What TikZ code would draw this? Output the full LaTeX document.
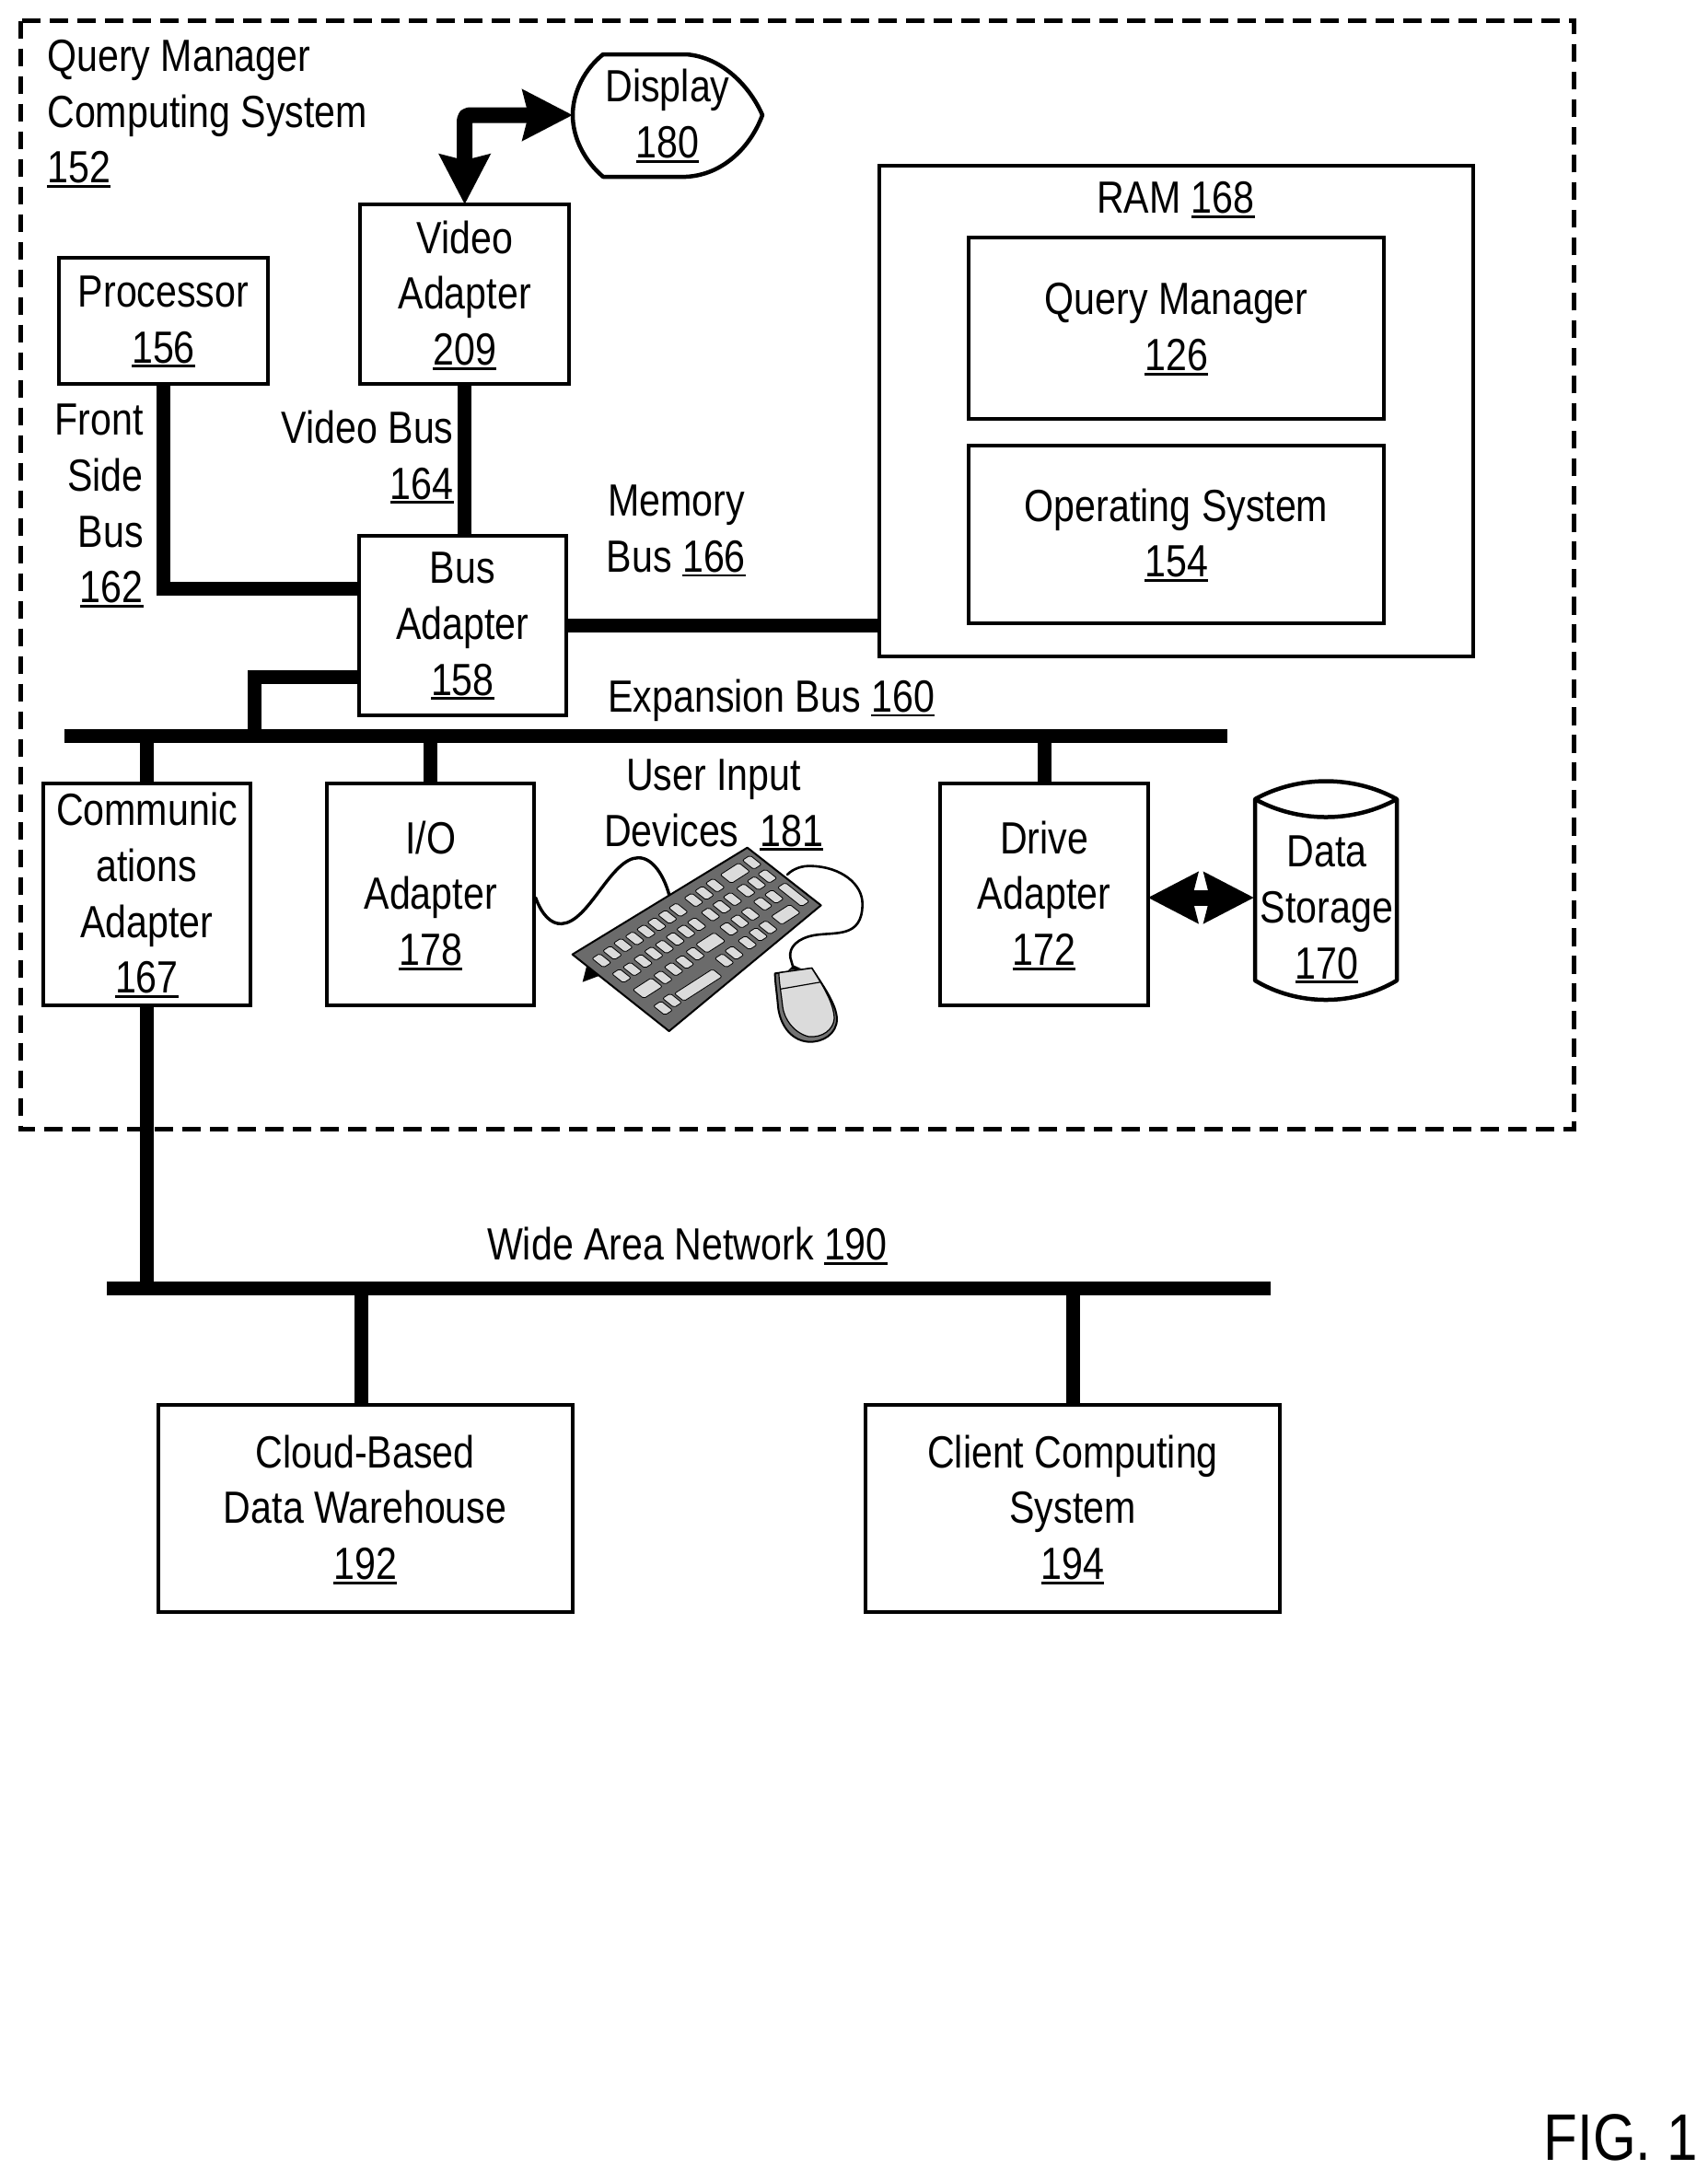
\documentclass[tikz,border=0pt]{standalone}
\usepackage{fontspec}
\setmainfont[FakeStretch=0.84]{Liberation Sans}
\usetikzlibrary{arrows.meta}
\newcommand\un[1]{\setbox0\hbox{#1}\rlap{\smash{\rule[-5pt]{\wd0}{2.8pt}}}\box0\rule[-3pt]{0pt}{3pt}}
\newcommand\kbkey[4]{\fill[keycol,rounded corners=2pt,draw=black,line width=.8pt]
 ({#1-0.84*#3-0.78*#4},{#2+0.54*#3-0.62*#4}) -- ({#1+0.84*#3-0.78*#4},{#2-0.54*#3-0.62*#4}) -- ({#1+0.84*#3+0.78*#4},{#2-0.54*#3+0.62*#4}) -- ({#1-0.84*#3+0.78*#4},{#2+0.54*#3+0.62*#4}) -- cycle;}
\definecolor{keycol}{gray}{0.86}
\definecolor{kbbg}{gray}{0.42}
\tikzset{
 txt/.style={inner sep=0pt,outer sep=0pt,font=\fontsize{49}{60.7}\selectfont,align=center},
 box/.style 2 args={draw=black,line width=4pt,inner sep=0pt,outer sep=0pt,
   minimum width=#1*1.511pt,minimum height=#2*1.511pt,
   font=\fontsize{49}{60.7}\selectfont,align=center},
 busline/.style={draw=black,line width=15pt},
 bigarrow/.style={draw=black,line width=17pt,line join=round,
   {Stealth[length=54pt,width=54pt,inset=6pt]}-{Stealth[length=54pt,width=54pt,inset=6pt]}},
 shapeline/.style={draw=black,line width=4.5pt,line join=round},
 cable/.style={draw=black,line width=2.6pt,line cap=round},
}
\begin{document}
\begin{tikzpicture}[x=1.511pt,y=-1.511pt]
\useasboundingbox (0,0) rectangle (1227,1567.8);
\fill[white] (0,0) rectangle (1227,1567.8);
% outer dashed frame
\draw[black,line width=5pt,dash pattern=on 19.5pt off 10.5pt] (15,15) rectangle (1131,812);
% bars
\coordinate (ebL) at (46,529); \coordinate (ebR) at (882,529);
\coordinate (wanL) at (77,926); \coordinate (wanR) at (913,926);
\coordinate (fsb) at (0,423); \coordinate (xb) at (183,487);
% boxes
\node[box={150}{91}] (proc) at (117.5,230.5) {Processor\\\un{156}};
\node[box={150}{129}] (vid) at (334,211.5) {Video\\Adapter\\\un{209}};
\node[box={149}{129}] (busad) at (332.5,449.5) {Bus\\Adapter\\\un{158}};
\node[box={427}{353}] (ram) at (845.5,295.5) {};
\node[txt] (ramt) at (845,143) {RAM \un{168}};
\node[box={299}{130}] (qm) at (845.5,236) {Query Manager\\\un{126}};
\node[box={299}{128}] (os) at (845.5,384) {Operating System\\\un{154}};
\node[box={149}{160}] (comm) at (105.5,643) {Communic\\ations\\Adapter\\\un{167}};
\node[box={149}{160}] (io) at (309.5,643) {I/O\\Adapter\\\un{178}};
\node[box={149}{160}] (drv) at (750.5,643) {Drive\\Adapter\\\un{172}};
\node[box={298}{149}] (cloud) at (262.5,1084.5) {Cloud-Based\\Data Warehouse\\\un{192}};
\node[box={298}{149}] (client) at (771,1084.5) {Client Computing\\System\\\un{194}};
% free labels
\node[txt,align=left,anchor=west] (qmc) at (34,81) {Query Manager\\Computing System\\\un{152}};
\node[txt,align=right,anchor=east] (fsbt) at (103,363) {Front\\Side\\Bus\\\un{162}};
\node[txt,align=right,anchor=east] (vbt) at (326,328) {Video Bus\\\un{164}};
\node[txt] (mbt) at (486,381) {Memory\\Bus \un{166}};
\node[txt,anchor=west] (ebt) at (437,503.5) {Expansion Bus \un{160}};
\node[txt] (uid) at (513,578) {User Input\\Devices\ \ \un{181}};
\node[txt] (wan) at (494,895) {Wide Area Network \un{190}};
\node[txt,font=\fontsize{71.5}{80}\selectfont,anchor=east] (fig) at (1220,1536.5) {FIG. 1};
% connectors
\draw[busline] (ebL) -- (ebR);
\draw[busline] (wanL) -- (wanR);
\draw[busline] (proc.south) |- (busad.west |- fsb);
\draw[busline] (vid.south) -- (vid.south |- busad.north);
\draw[busline] (busad.east) -- (ram.west |- busad.east);
\draw[busline] (busad.west |- xb) -| (xb |- ebL);
\draw[busline] (comm.north) -- (comm.north |- ebL);
\draw[busline] (io.north) -- (io.north |- ebL);
\draw[busline] (drv.north) -- (drv.north |- ebL);
\draw[busline] (comm.south) -- (comm.south |- wanL);
\draw[busline] (cloud.north -| 260,0) -- (260,926);
\draw[busline] (client.north) -- (client.north |- wanL);
% full-resolution pieces
\begin{scope}[x=1pt,y=-1pt]
 % display
 \node[txt] (dsp) at (725,125) {Display\\\un{180}};
 \coordinate (dspW) at (622,125);
 \draw[shapeline] (655,59) -- (745,59) .. controls (785,62) and (815,95) .. (828,125)
   .. controls (815,160) and (785,190) .. (745,192) -- (655,192)
   .. controls (635,175) and (622,150) .. (622,125)
   .. controls (622,100) and (635,75) .. (655,59) -- cycle;
 \draw[bigarrow,rounded corners=5pt] (vid.north) -- (vid.north |- dspW) -- (dspW);
 % data storage
 \node[txt] (dat) at (1441,987) {Data\\Storage\\\un{170}};
 \coordinate (datW) at (1362,975);
 \draw[shapeline] (1363,868) .. controls (1410,842) and (1470,842) .. (1517,868)
   -- (1517,1065) .. controls (1470,1093) and (1410,1093) .. (1363,1065) -- cycle;
 \draw[shapeline] (1363,868) .. controls (1410,894) and (1470,894) .. (1517,868);
 \draw[bigarrow] (drv.east |- datW) -- (datW);
\end{scope}
% keyboard & mouse (local coordinates of the 3x detail)
\begin{scope}[x=0.3333pt,y=-0.3333pt,shift={(560pt,-880pt)}]
 \coordinate (cbA) at (65,285); \coordinate (cbB) at (500,275);
 \coordinate (cbC) at (885,210); \coordinate (cbD) at (905,515);
 \draw[cable,line width=3.4pt] (cbA) .. controls (85,340) and (115,372) .. (150,370)
   .. controls (240,365) and (310,155) .. (400,155)
   .. controls (450,155) and (485,220) .. (cbB);
 \draw[cable] (cbC) .. controls (905,190) and (935,180) .. (965,182)
   .. controls (1060,185) and (1130,240) .. (1130,305)
   .. controls (1130,420) and (1040,395) .. (970,408)
   .. controls (920,418) and (890,445) .. (895,480) -- (cbD);
 \fill[black] (232,505) -- (218,560) -- (285,535) -- cycle;
 \fill[kbbg,draw=black,line width=2pt,line join=round] (755,122) -- (995,310) -- (500,720) -- (185,470) -- cycle;
 \foreach \a/\b in {280/490,315/465,350/440,388/418,425/395,460/372,495/348,530/325,580/293,615/270,650/245,770/170,
   345/540,380/518,415/492,450/467,485/445,520/420,555/395,590/372,635/340,672/315,707/290,750/262,785/238,820/215,
   480/545,515/518,550/495,585/468,695/387,730/362,765/338,805/305,842/282,
   510/620,680/490,712/465,755/432,790/405,822/382,480/645}
   {\kbkey{\a}{\b}{15}{24}}
 \kbkey{715}{205}{36}{23}
 \kbkey{430}{580}{36}{23}
 \kbkey{635}{432}{36}{23}
 \kbkey{595}{570}{74}{20}
 \kbkey{880}{340}{36}{22}
 \kbkey{905}{275}{15}{50}
 % mouse
 \fill[black!55,draw=black,line width=2pt,line join=round] (845,532) -- (965,515)
   .. controls (1000,570) and (1045,630) .. (1047,680)
   .. controls (1047,730) and (1000,757) .. (955,755)
   .. controls (890,750) and (860,690) .. (855,640)
   .. controls (852,600) and (845,560) .. (845,532) -- cycle;
 \fill[keycol,draw=black,line width=1.2pt,line join=round] (858,530) -- (965,515)
   .. controls (1000,570) and (1038,630) .. (1038,680)
   .. controls (1035,715) and (1000,742) .. (955,738)
   .. controls (905,725) and (875,680) .. (870,640)
   .. controls (866,600) and (858,560) .. (858,530) -- cycle;
 \draw[black,line width=1.2pt] (862,583) -- (995,560);
 \fill[black] (888,522) -- (905,505) -- (932,517) -- cycle;
\end{scope}
\end{tikzpicture}
\end{document}
